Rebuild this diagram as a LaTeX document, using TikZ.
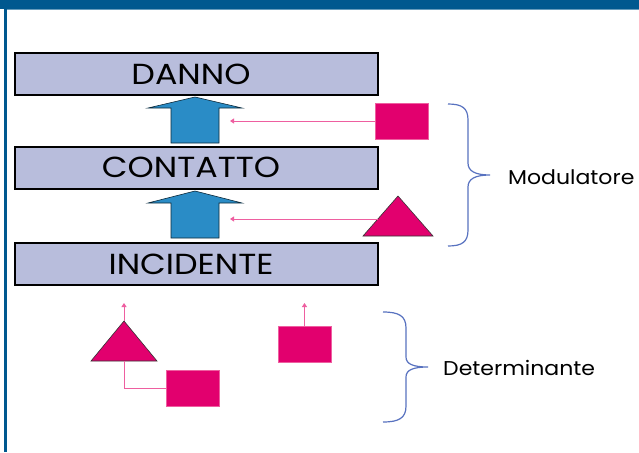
\documentclass[tikz,border=0pt]{standalone}
\usepackage{fontspec}
\setmainfont{Poppins}
\usetikzlibrary{arrows.meta}
\definecolor{boxfill}{HTML}{B8BDDC}
\definecolor{arrowblue}{HTML}{2A8CC6}
\definecolor{pinkfill}{HTML}{E2006E}
\definecolor{pinkline}{HTML}{EE5FA0}
\definecolor{bracecol}{HTML}{5872C0}
\definecolor{framecol}{HTML}{00588F}
\begin{document}
\begin{tikzpicture}[x=1pt,y=-1pt,
  stage/.style={draw=black,line width=2pt,fill=boxfill,minimum width=363pt,minimum height=42pt,inner sep=0pt,font=\fontsize{29}{29}\selectfont},
  bluearrow/.style={fill=arrowblue,draw=black!70!arrowblue,line width=0.6pt},
  pinkbox/.style={fill=pinkfill,draw=pinkline,line width=0.8pt,minimum width=53pt,minimum height=36pt,inner sep=0pt},
  pinktri/.style={fill=pinkfill,draw=black!80,line width=0.6pt},
  pinkarrow/.style={draw=pinkline,line width=1pt,-{Triangle[length=4pt,width=5pt]}},
  pinkconn/.style={draw=pinkline,line width=1pt},
  bracestyle/.style={draw=bracecol,line width=1.2pt},
  lbl/.style={anchor=west,inner sep=0pt,font=\fontsize{20}{20}\selectfont}]
\useasboundingbox (0,0) rectangle (639,452);
\fill[white] (0,0) rectangle (639,452);
\fill[framecol] (0,0) rectangle (639,9);
\fill[framecol!60] (6,9) rectangle (639,10.5);
\fill[framecol] (4,9) rectangle (6.5,452);

% stages
\node[stage] (danno) at (196.5,74) {\hspace*{-11pt}\scalebox{1.15}[1]{DANNO}};
\node[stage] (contatto) at (196.5,167.5) {\hspace*{-11pt}\scalebox{1.15}[1]{CONTATTO}};
\node[stage] (incidente) at (196.5,264) {\hspace*{-11pt}\scalebox{1.15}[1]{INCIDENTE}};

% blue arrows
\draw[bluearrow] (171,143) -- (171,108) -- (148,108) -- (195,97) -- (242,108) -- (219,108) -- (219,143) -- cycle;
\draw[bluearrow] (171,238) -- (171,203) -- (148,203) -- (195,191) -- (242,203) -- (219,203) -- (219,238) -- cycle;

% modulators
\node[pinkbox] (sqa) at (401.5,121) {};
\coordinate (enda) at (230,121);
\draw[pinkarrow] (sqa.west) -- (enda);

\coordinate (triaL) at (363,236);
\coordinate (triaR) at (433,236);
\coordinate (triaT) at (398,196);
\filldraw[pinktri] (triaL) -- (triaT) -- (triaR) -- cycle;
\coordinate (triaE) at (378,219);
\coordinate (endb) at (230,219);
\draw[pinkarrow] (triaE) -- (endb);

% determinants
\coordinate (tribL) at (91,361);
\coordinate (tribR) at (157,361);
\coordinate (tribT) at (124,321);
\coordinate (tribB) at (124,361);
\filldraw[pinktri] (tribL) -- (tribT) -- (tribR) -- cycle;
\coordinate (endc) at (124,303);
\draw[pinkarrow] (tribT) -- (endc);
\node[pinkbox] (sqb) at (193,388) {};
\draw[pinkconn] (tribB) |- (sqb.west);
\node[pinkbox] (sqc) at (304.5,344) {};
\coordinate (endd) at (304.5,303);
\draw[pinkarrow] (sqc.north) -- (endd);

% braces
\draw[bracestyle] (448,104) .. controls (462,104) and (468,108) .. (468,120) -- (468,163)
  .. controls (468,171) and (475,175) .. (490,175)
  .. controls (475,175) and (468,179) .. (468,187) -- (468,230)
  .. controls (468,242) and (462,246) .. (448,246);
\node[lbl] (modul) at (508,177) {\scalebox{1.1}[1]{Modulatore}};
\draw[bracestyle] (383,312) .. controls (399,312) and (406,316) .. (406,328) -- (406,357)
  .. controls (406,364) and (413,367) .. (428,367)
  .. controls (413,367) and (406,370) .. (406,377) -- (406,406)
  .. controls (406,418) and (399,422) .. (383,422);
\node[lbl] (determ) at (443,368) {\scalebox{1.1}[1]{Determinante}};
\end{tikzpicture}
\end{document}
